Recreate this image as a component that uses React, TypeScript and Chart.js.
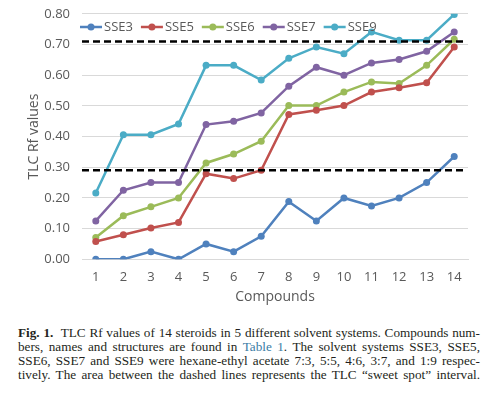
import React, { useEffect, useRef } from "react";
import { Chart, registerables } from "chart.js";

Chart.register(...registerables);

const categories = ["1", "2", "3", "4", "5", "6", "7", "8", "9", "10", "11", "12", "13", "14"];
const seriesNames = ["SSE3", "SSE5", "SSE6", "SSE7", "SSE9"];
const sse3 = [0, 0, 0.025, 0, 0.05, 0.025, 0.075, 0.188, 0.125, 0.2, 0.174, 0.2, 0.25, 0.335];
const sse5 = [0.058, 0.08, 0.102, 0.12, 0.279, 0.263, 0.29, 0.472, 0.486, 0.501, 0.545, 0.559, 0.575, 0.692];
const sse6 = [0.071, 0.142, 0.171, 0.2, 0.314, 0.343, 0.385, 0.501, 0.501, 0.545, 0.578, 0.573, 0.632, 0.717];
const sse7 = [0.125, 0.225, 0.25, 0.25, 0.439, 0.45, 0.477, 0.564, 0.626, 0.6, 0.64, 0.651, 0.678, 0.741];
const sse9 = [0.216, 0.406, 0.406, 0.441, 0.632, 0.632, 0.584, 0.655, 0.692, 0.67, 0.741, 0.714, 0.714, 0.798];
const seriesColors = ["#4F81BD", "#C0504D", "#9BBB59", "#8064A2", "#4BACC6"];
const sweetSpot = [0.29, 0.71];

const FONT = "'Open Sans', sans-serif";
const CANVAS_SHIFT = -6;

const overlayPlugin = {
  id: "overlay",
  afterDatasetsDraw(chart: any) {
    const ctx = chart.ctx;
    const { left, right } = chart.chartArea;
    const y = chart.scales.y;
    ctx.save();
    ctx.strokeStyle = "#000";
    ctx.lineWidth = 2.5;
    ctx.setLineDash([7, 4]);
    for (const v of sweetSpot) {
      const py = y.getPixelForValue(v);
      ctx.beginPath();
      ctx.moveTo(left, py);
      ctx.lineTo(right - 2, py);
      ctx.stroke();
    }
    ctx.setLineDash([]);
    // legend
    ctx.font = "13px " + FONT;
    ctx.textBaseline = "middle";
    let x = 80;
    const ly = 27 - CANVAS_SHIFT;
    chart.data.datasets.forEach((ds: any) => {
      ctx.strokeStyle = ds.borderColor;
      ctx.lineWidth = 2.5;
      ctx.beginPath();
      ctx.moveTo(x, ly);
      ctx.lineTo(x + 22, ly);
      ctx.stroke();
      ctx.fillStyle = ds.borderColor;
      ctx.beginPath();
      ctx.arc(x + 11, ly, 3.5, 0, Math.PI * 2);
      ctx.fill();
      ctx.fillStyle = "#595959";
      ctx.fillText(ds.label, x + 24, ly);
      x += 24 + ctx.measureText(ds.label).width + 8;
    });
    ctx.restore();
  },
};

const captionLines = [
  [<b key="b">Fig. 1.</b>, "\u00a0 TLC Rf values of 14 steroids in 5 different solvent systems. Compounds num-"],
  ["bers, names and structures are found in ", <span key="t" style={{ color: "#3a7ca5" }}>Table 1</span>, ". The solvent systems SSE3, SSE5,"],
  ["SSE6, SSE7 and SSE9 were hexane-ethyl acetate 7:3, 5:5, 4:6, 3:7, and 1:9 respec-"],
  ["tively. The area between the dashed lines represents the TLC \u201csweet spot\u201d interval."],
];

export default function App() {
  const ref = useRef<HTMLCanvasElement | null>(null);
  useEffect(() => {
    if (!ref.current) return;
    const data = [sse3, sse5, sse6, sse7, sse9];
    const chart = new Chart(ref.current, {
      type: "line",
      data: {
        labels: categories,
        datasets: seriesNames.map((n, i) => ({
          label: n,
          data: data[i],
          borderColor: seriesColors[i],
          backgroundColor: seriesColors[i],
          borderWidth: 2.5,
          pointRadius: 3.5,
          pointBorderWidth: 0,
          tension: 0,
        })),
      },
      options: {
        animation: false,
        responsive: false,
        layout: { padding: { left: 26, right: 32, top: 1, bottom: 11.6 } },
        plugins: { legend: { display: false }, tooltip: { enabled: false } },
        scales: {
          x: {
            offset: true,
            grid: { display: false, drawTicks: false },
            border: { color: "#d9d9d9", width: 1 },
            afterFit: (s: any) => {
              s.height = 46.1;
            },
            ticks: { color: "#595959", font: { family: FONT, size: 13 }, padding: 10.5 },
            title: { display: true, text: "Compounds", color: "#595959", font: { family: FONT, size: 14 }, padding: { top: 0, bottom: 0 } },
          },
          y: {
            min: 0,
            max: 0.8,
            grid: { color: "#d9d9d9", drawTicks: false },
            border: { display: false },
            afterFit: (s: any) => {
              s.width = 56;
            },
            ticks: {
              stepSize: 0.1,
              color: "#595959",
              font: { family: FONT, size: 13 },
              padding: 12,
              callback: (v: any) => Number(v).toFixed(2),
            },
            title: { display: true, text: "TLC Rf values", color: "#595959", font: { family: FONT, size: 14 }, padding: { top: 0, bottom: 0 } },
          },
        },
      },
      plugins: [overlayPlugin],
    });
    return () => chart.destroy();
  }, []);

  return (
    <div style={{ position: "fixed", left: 0, top: 0, width: 500, height: 399, background: "#fff", overflow: "hidden" }}>
      <canvas ref={ref} width={500} height={323} style={{ position: "absolute", left: 0, top: CANVAS_SHIFT }} />
      <div
        style={{
          position: "absolute",
          left: 18,
          top: 326,
          width: 462,
          fontFamily: "'Liberation Serif', serif",
          fontSize: 13.2,
          lineHeight: "14px",
          color: "#231f20",
        }}
      >
        {captionLines.map((parts, i) => (
          <div key={i} style={{ textAlign: "justify", textAlignLast: "justify" }}>
            {parts}
          </div>
        ))}
      </div>
    </div>
  );
}
